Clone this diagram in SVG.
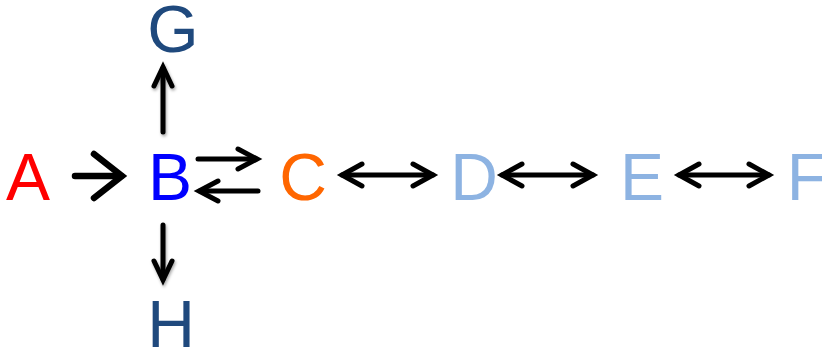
<svg xmlns="http://www.w3.org/2000/svg" width="822" height="350" viewBox="0 0 822 350">
  <defs>
    <style>
      .lbl { font-family: "Liberation Sans", Arial, sans-serif; font-size: 66px; text-anchor: middle; }
      .ln { fill: none; stroke: #000; stroke-linecap: round; stroke-linejoin: miter; }
    </style>
    <filter id="shadow" x="-50%" y="-20%" width="200%" height="140%">
      <feDropShadow dx="1" dy="2" stdDeviation="1.6" flood-color="#000" flood-opacity="0.35"/>
    </filter>
  </defs>
  <rect width="822" height="350" fill="#fff"/>

  <g id="node-A"><text class="lbl" x="28" y="200" fill="#FF0000">A</text></g>
  <g id="node-B"><text class="lbl" x="170" y="200" fill="#0000FF">B</text></g>
  <g id="node-C"><text class="lbl" x="303" y="200" fill="#FF6600">C</text></g>
  <g id="node-D"><text class="lbl" x="474" y="200" fill="#8DB3E2">D</text></g>
  <g id="node-E"><text class="lbl" x="642" y="200" fill="#8DB3E2">E</text></g>
  <g id="node-F"><text class="lbl" x="807" y="200" fill="#8DB3E2">F</text></g>
  <g id="node-G"><text class="lbl" x="173" y="52" fill="#1F497D">G</text></g>
  <g id="node-H"><text class="lbl" x="171" y="347" fill="#1F497D">H</text></g>

  <g id="connectors">
    <!-- A -> B -->
    <g class="ln" stroke-width="6.5">
      <path d="M75 176 H121"/>
      <path d="M94 154 L122 176 L94 198"/>
    </g>
    <!-- B -> C (upper) and C -> B (lower) -->
    <g class="ln" stroke-width="5">
      <path d="M198 159 H256"/>
      <path d="M238 149 L257 159 L238 169"/>
      <path d="M258 191 H200"/>
      <path d="M218 181 L199 191 L218 201"/>
    </g>
    <!-- C <-> D -->
    <g class="ln" stroke-width="5">
      <path d="M342 175 H433"/>
      <path d="M362 164 L342 175 L362 186"/>
      <path d="M413 164 L433 175 L413 186"/>
    </g>
    <!-- D <-> E -->
    <g class="ln" stroke-width="5">
      <path d="M502 175 H593"/>
      <path d="M522 164 L502 175 L522 186"/>
      <path d="M573 164 L593 175 L573 186"/>
    </g>
    <!-- E <-> F -->
    <g class="ln" stroke-width="5">
      <path d="M679 175 H769"/>
      <path d="M699 164 L679 175 L699 186"/>
      <path d="M749 164 L769 175 L749 186"/>
    </g>
    <!-- B -> G -->
    <g class="ln" stroke-width="5" filter="url(#shadow)">
      <path d="M163 132 V68"/>
      <path d="M154 86 L163 67 L172 86"/>
    </g>
    <!-- B -> H -->
    <g class="ln" stroke-width="5" filter="url(#shadow)">
      <path d="M163 225 V279"/>
      <path d="M154 261 L163 280 L172 261"/>
    </g>
  </g>
</svg>
